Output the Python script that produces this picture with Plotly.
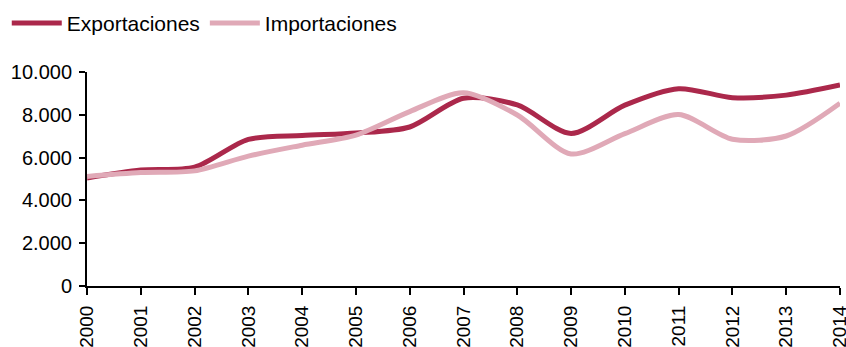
import plotly.graph_objects as go

years = ["2000", "2001", "2002", "2003", "2004", "2005", "2006", "2007",
         "2008", "2009", "2010", "2011", "2012", "2013", "2014"]
exportaciones = [5050, 5420, 5550, 6850, 7030, 7150, 7430, 8770,
                 8460, 7130, 8450, 9220, 8800, 8920, 9390]
importaciones = [5120, 5300, 5380, 6070, 6580, 7050, 8150, 9030,
                 7990, 6170, 7120, 8010, 6860, 7010, 8540]
y_ticks = [0, 2000, 4000, 6000, 8000, 10000]

fig = go.Figure()
fig.add_trace(go.Scatter(x=years, y=exportaciones, name="Exportaciones",
                         mode="lines", line=dict(color="#ab284b", width=5, shape="spline", smoothing=0.8)))
fig.add_trace(go.Scatter(x=years, y=importaciones, name="Importaciones",
                         mode="lines", line=dict(color="#e0a9b7", width=5, shape="spline", smoothing=0.8)))

fig.update_layout(
    width=846, height=347,
    margin=dict(l=87, r=6, t=72, b=61),
    paper_bgcolor="white", plot_bgcolor="white",
    font=dict(family="Liberation Sans, Arial, sans-serif", color="#000000"),
    separators=",.",
    showlegend=True,
    legend=dict(orientation="h", x=0.008, y=0.933, xanchor="left", yanchor="middle",
                xref="container", yref="container",
                font=dict(size=21), itemwidth=50, tracegroupgap=0,
                bgcolor="rgba(0,0,0,0)"),
)
fig.update_xaxes(type="category", range=[0, 14], showline=True, linecolor="black", linewidth=2,
                 ticks="outside", ticklen=7, tickwidth=2, tickcolor="black", automargin=False,
                 tickangle=-90, tickfont=dict(size=19), showgrid=False, zeroline=False,
                 ticklabelstandoff=3)
fig.update_yaxes(range=[0, 10000], tickvals=y_ticks, tickformat=",d", showline=True,
                 linecolor="black", linewidth=2, ticks="outside", ticklen=6, tickwidth=2,
                 tickcolor="black", tickfont=dict(size=20), showgrid=False, zeroline=False,
                 automargin=False, ticklabelstandoff=3)

fig.write_html("out.html", config={"displayModeBar": False},
               post_script="document.body.style.margin='0';")
